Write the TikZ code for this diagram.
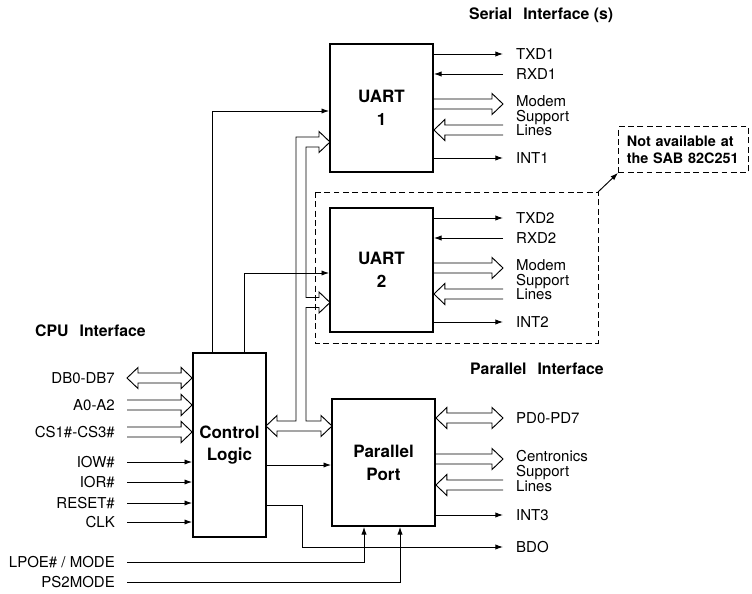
\documentclass[tikz,border=0pt]{standalone}
\usepackage{fontspec}
\setmainfont{TeX Gyre Heros}
\usetikzlibrary{arrows.meta,positioning,calc}

% hollow bus arrows (horizontal only)
\newcommand\busw{0.15cm}
\newcommand\bush{0.315cm}
\newcommand\busl{0.33cm}
\newcommand\bus[2]{%
  \draw[busline] let \p1=#1, \p2=#2, \n1={ifthenelse(\x2>\x1,1,-1)*\busl} in
    (\x1,{\y1+\busw}) -- ({\x2-\n1},{\y1+\busw}) -- ({\x2-\n1},{\y1+\bush})
    -- (\x2,\y1) -- ({\x2-\n1},{\y1-\bush}) -- ({\x2-\n1},{\y1-\busw})
    -- (\x1,{\y1-\busw});}
\newcommand\busLR[2]{%
  \draw[busline] let \p1=#1, \p2=#2, \n1={ifthenelse(\x2>\x1,1,-1)*\busl} in
    (\x1,\y1) -- ({\x1+\n1},{\y1+\bush}) -- ({\x1+\n1},{\y1+\busw})
    -- ({\x2-\n1},{\y1+\busw}) -- ({\x2-\n1},{\y1+\bush}) -- (\x2,\y1)
    -- ({\x2-\n1},{\y1-\bush}) -- ({\x2-\n1},{\y1-\busw})
    -- ({\x1+\n1},{\y1-\busw}) -- ({\x1+\n1},{\y1-\bush}) -- cycle;}

\begin{document}
\begin{tikzpicture}[x=0.03cm,y=-0.03cm,
    box/.style={draw,line width=1.5pt,align=center,inner sep=0pt,
      font=\fontsize{14.5}{19.5}\selectfont\bfseries},
    pin/.style={inner xsep=0.36cm,inner ysep=1pt,font=\fontsize{12.8}{12.4}\selectfont},
    lpin/.style={pin,anchor=east},
    rpin/.style={pin,anchor=west,align=left,inner xsep=0.39cm},
    head/.style={anchor=west,inner sep=0pt,font=\fontsize{13.5}{15}\selectfont\bfseries},
    sig/.style={line width=0.8pt,-{Latex[length=6.5pt,width=4.5pt]}},
    busline/.style={line width=0.8pt},
    dash box/.style={line width=0.8pt,dash pattern=on 5pt off 3pt}]
  \useasboundingbox (0,0) rectangle (752,594);
  % blocks
  \node[box,minimum width=3.09cm,minimum height=3.84cm] (uA) at (381.5,108) {UART\\1};
  \node[box,minimum width=3.09cm,minimum height=3.72cm] (uB) at (381.5,270) {UART\\2};
  \node[box,minimum width=2.19cm,minimum height=5.52cm] (ctl) at (229.5,445) {Control\\Logic};
  \node[box,minimum width=3.09cm,minimum height=3.81cm] (port) at (383.5,462.5) {Parallel\\Port};

  \node[head] (serial) at (469,15) {Serial\hspace{0.33cm}Interface (s)};
  \node[head] (cpu) at (35,331) {CPU\hspace{0.33cm}Interface};
  \node[head] (par) at (470,369) {Parallel\hspace{0.33cm}Interface};

  % second UART is optional
  \draw[dash box] (315,192) rectangle (598,343);
  \coordinate (dcorner) at (598,192);
  \node[draw,dash box,anchor=north west,text width=3.4cm,inner xsep=0.25cm,
    minimum height=1.38cm,align=left,font=\fontsize{12.3}{14.5}\selectfont\bfseries]
    (note) at (618,126) {Not available at\\the SAB 82C251};
  \draw[sig] (dcorner) -- (note.south west);

  % CPU interface
  \node[lpin] (db) at (127,378) {DB0-DB7};
  \node[lpin] (adr) at (127,405) {A0-A2};
  \node[lpin] (cs) at (127,432) {CS1\#-CS3\#};
  \busLR{(db.east)}{(ctl.west |- db.east)}
  \bus{(adr.east)}{(ctl.west |- adr.east)}
  \bus{(cs.east)}{(ctl.west |- cs.east)}
  \foreach \n/\y/\lab in {iow/462/IOW\#,ior/482/IOR\#,rst/503/RESET\#,clk/522/CLK}{
    \node[lpin] (\n) at (127,\y) {\lab};
    \draw[sig] (\n) -- (ctl.west |- \n);
  }
  \node[lpin] (lpoe) at (127,562) {LPOE\# / MODE};
  \node[lpin] (ps2) at (127,582) {PS2MODE};
  \draw[sig] (lpoe) -| ($(port.south)+(-19.5,0)$);
  \draw[sig] (ps2) -| ($(port.south)+(16.5,0)$);

  % internal bus
  \draw[busline] (319,137) -- (296,137) -- (296,421) -- (277,421) -- (277,415.5)
    -- (266,426) -- (277,436.5) -- (277,431) -- (321,431) -- (321,436.5)
    -- (332,426) -- (321,415.5) -- (321,421) -- (306,421) -- (306,307.5)
    -- (319,307.5) -- (319,313) -- (330,302.5) -- (319,292) -- (319,297.5)
    -- (306,297.5) -- (306,147) -- (319,147) -- (319,152.5) -- (330,142)
    -- (319,131.5) -- cycle;
  \draw[sig] (ctl.north -| 212,0) |- (uA.west |- 0,111);
  \draw[sig] (ctl.north -| 244,0) |- (uB.west |- 0,273);
  \draw[sig] (ctl.east |- 0,465) -- (port.west |- 0,465);

  % serial interfaces
  \foreach \u/\k/\t in {uA/1/44,uB/2/208}{
    \node[rpin] (txd\k) at (503,\t+10) {TXD\k};
    \node[rpin] (rxd\k) at (503,\t+30) {RXD\k};
    \node[rpin] (mod\k) at (503,\t+72) {Modem\\Support\\Lines};
    \node[rpin] (int\k) at (503,\t+114) {INT\k};
    \draw[sig] (\u.east |- txd\k) -- (txd\k);
    \draw[sig] (rxd\k) -- (\u.east |- rxd\k);
    \draw[sig] (\u.east |- int\k) -- (int\k);
    \bus{(\u.east |- 0,\t+60)}{(mod\k.west |- 0,\t+60)}
    \bus{(mod\k.west |- 0,\t+86)}{(\u.east |- 0,\t+86)}
  }

  % parallel interface
  \node[rpin] (pd) at (503,418) {PD0-PD7};
  \node[rpin] (cen) at (503,471) {Centronics\\Support\\Lines};
  \node[rpin] (int3) at (503,515) {INT3};
  \node[rpin] (bdo) at (503,547) {BDO};
  \busLR{(port.east |- pd.west)}{(pd.west)}
  \bus{(port.east |- 0,459)}{(cen.west |- 0,459)}
  \bus{(cen.west |- 0,485)}{(port.east |- 0,485)}
  \draw[sig] (port.east |- int3) -- (int3);
  \draw[sig] (ctl.east |- 0,505) -- (302,505) |- (bdo);
\end{tikzpicture}
\end{document}
